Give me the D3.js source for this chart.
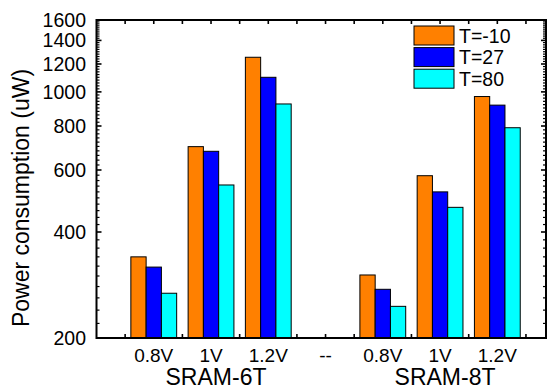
<!DOCTYPE html>
<html>
<head>
<meta charset="utf-8">
<script src="https://cdn.jsdelivr.net/npm/d3@7/dist/d3.min.js"></script>
<style>
  html, body { margin: 0; padding: 0; background: #fff; }
  svg { display: block; font-family: "Liberation Sans", Arial, sans-serif; }
</style>
</head>
<body>
<svg id="chart" width="549" height="389"></svg>
<script>
// Voltage categories along the x axis ("--" is an empty separator slot)
const categories = ["0.8V", "1V", "1.2V", "--", "0.8V", "1V", "1.2V"];
// SRAM cell type for each half of the axis
const groups = ["SRAM-6T", "SRAM-8T"];
const groupCenter = [2, 6];
// Power consumption (uW) per temperature; null = no bar
const seriesNames = ["T=-10", "T=27", "T=80"];
const tMinus10 = [340, 699, 1254, null, 302, 578, 970];
const t27      = [318, 678, 1100, null, 275, 520, 917];
const t80      = [268, 544, 924, null, 246, 470, 791];
const seriesColors = ["#FF8000", "#0000FF", "#00FFFF"];
// Y-axis labelled ticks
const yTicks = [200, 400, 600, 800, 1000, 1200, 1400, 1600];

const series = [tMinus10, t27, t80];

const svg = d3.select("#chart");
const plotL = 96.5, plotR = 546, plotT = 20, plotB = 338;

const x = d3.scaleLinear().domain([0, 7.85]).range([plotL, plotR]);
const y = d3.scaleLog().domain([200, 1600]).range([plotB, plotT]);

const slot = x(1) - x(0);
const groupW = slot * 0.8;
const barW = groupW / 3;

// Minor y ticks every 20 uW
const minorY = d3.range(220, 1600, 20).filter(v => v % 200 !== 0);
const xTickPos = d3.range(0.5, 7.6, 0.5);

const axes = svg.append("g").attr("stroke", "#000").attr("fill", "none");

// Inward ticks on all four sides
axes.selectAll("line.ymajL").data(yTicks).join("line")
  .attr("x1", plotL).attr("x2", plotL + 5)
  .attr("y1", d => y(d)).attr("y2", d => y(d)).attr("stroke-width", 1.6);
axes.selectAll("line.yminL").data(minorY).join("line")
  .attr("x1", plotL).attr("x2", plotL + 3)
  .attr("y1", d => y(d)).attr("y2", d => y(d)).attr("stroke-width", 1.2);
axes.selectAll("line.ymajR").data(yTicks).join("line")
  .attr("x1", plotR).attr("x2", plotR - 5)
  .attr("y1", d => y(d)).attr("y2", d => y(d)).attr("stroke-width", 1.6);
axes.selectAll("line.yminR").data(minorY).join("line")
  .attr("x1", plotR).attr("x2", plotR - 3)
  .attr("y1", d => y(d)).attr("y2", d => y(d)).attr("stroke-width", 1.2);
axes.selectAll("line.xT").data(xTickPos).join("line")
  .attr("x1", d => x(d)).attr("x2", d => x(d))
  .attr("y1", plotT).attr("y2", plotT + 4).attr("stroke-width", 1.6);
axes.selectAll("line.xB").data(xTickPos).join("line")
  .attr("x1", d => x(d)).attr("x2", d => x(d))
  .attr("y1", plotB).attr("y2", plotB - 4).attr("stroke-width", 1.6);

// Bars
const barG = svg.append("g");
series.forEach((vals, si) => {
  barG.selectAll(null)
    .data(vals.map((v, i) => ({ v, i })).filter(d => d.v != null))
    .join("rect")
    .attr("x", d => x(d.i + 1) - groupW / 2 + si * barW)
    .attr("width", barW)
    .attr("y", d => y(d.v))
    .attr("height", d => plotB - y(d.v))
    .attr("fill", seriesColors[si])
    .attr("stroke", "#000")
    .attr("stroke-width", 1);
});

// Frame
svg.append("rect")
  .attr("x", plotL).attr("y", plotT)
  .attr("width", plotR - plotL).attr("height", plotB - plotT)
  .attr("fill", "none").attr("stroke", "#000").attr("stroke-width", 2);

// Y tick labels
svg.append("g").selectAll("text").data(yTicks).join("text")
  .attr("x", 86).attr("y", d => y(d))
  .attr("dy", "0.35em")
  .attr("text-anchor", "end")
  .attr("font-size", 19.5)
  .text(d => d);

// X category labels
svg.append("g").selectAll("text").data(categories).join("text")
  .attr("x", (d, i) => x(i + 1))
  .attr("y", 362)
  .attr("text-anchor", "middle")
  .attr("font-size", 19)
  .text(d => d);

// Group labels
svg.append("g").selectAll("text").data(groups).join("text")
  .attr("x", (d, i) => x(groupCenter[i]) + 5)
  .attr("y", 385)
  .attr("text-anchor", "middle")
  .attr("font-size", 23)
  .text(d => d);

// Y axis title
svg.append("text")
  .attr("transform", "translate(28.5,198) rotate(-90)")
  .attr("text-anchor", "middle")
  .attr("font-size", 23)
  .text("Power consumption (uW)");

// Legend
const leg = svg.append("g").attr("transform", "translate(414,26)");
seriesNames.forEach((name, i) => {
  const gy = i * 21.6;
  leg.append("rect")
    .attr("x", 0).attr("y", gy).attr("width", 40).attr("height", 19)
    .attr("fill", seriesColors[i]).attr("stroke", "#000").attr("stroke-width", 1);
  leg.append("text")
    .attr("x", 45).attr("y", gy + 9.5).attr("dy", "0.36em")
    .attr("font-size", 19.5)
    .text(name);
});
</script>
</body>
</html>
